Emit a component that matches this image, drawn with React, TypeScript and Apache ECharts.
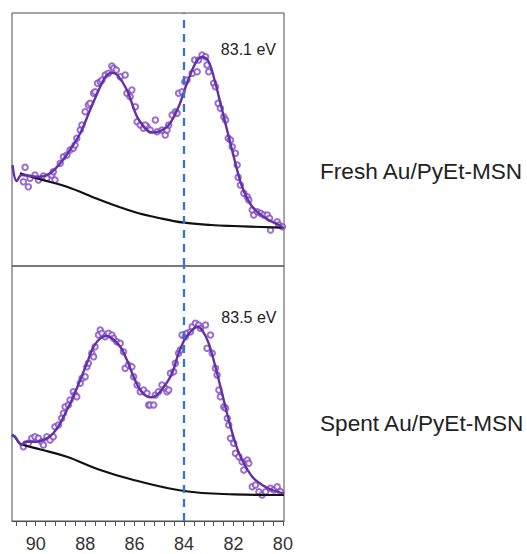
import React, { useEffect, useRef } from "react";
import * as echarts from "echarts";

// ---------- data ----------
const xTickLabels = [80, 82, 84, 86, 88, 90];
const xTickMarks = [
  80, 80.4, 80.8, 81.2, 81.6, 82, 82.4, 82.8, 83.2, 83.6, 84, 84.4, 84.8, 85.2,
  85.6, 86, 86.4, 86.8, 87.2, 87.6, 88, 88.4, 88.8, 89.2, 89.6, 90, 90.4, 90.8,
];
const referenceEnergy = 84;
const panelNames = ["Fresh Au/PyEt-MSN", "Spent Au/PyEt-MSN"];
const peakLabels = ["83.1 eV", "83.5 eV"];

const freshFit = [
  [90.94, 101], [90.77, 85], [90.57, 91], [90.23, 90], [89.83, 89.3], [89.42, 92.7],
  [89.01, 102.7], [88.61, 116], [88.2, 132.7], [87.8, 156], [87.39, 179.3], [87.15, 190],
  [86.92, 193.3], [86.7, 191], [86.31, 176], [85.9, 149.3], [85.57, 137.7], [85.28, 133.5],
  [85.03, 134.3], [84.62, 141], [84.22, 159.3], [83.88, 182.7], [83.54, 202.7], [83.26, 209.3],
  [83.0, 204.3], [82.73, 182.7], [82.46, 156], [82.19, 129.3], [81.92, 102.7], [81.65, 79.3],
  [81.24, 59.3], [80.7, 47.7], [80.16, 41], [79.96, 37.7],
];
const freshBaseline = [
  [90.64, 92.7], [89.8, 86.5], [88.74, 79.3], [87.39, 66], [86.04, 54.3], [84.96, 47.7],
  [84.0, 43.3], [82.9, 41], [81.99, 40], [80.02, 38.3],
];
const freshPoints = [
  [90.43, 98.7], [90.5, 84.3], [90.3, 79.3], [90.23, 87.7], [90.03, 91], [89.89, 86],
  [89.69, 90], [89.55, 87.7], [89.35, 91], [89.29, 94.3], [89.22, 86], [89.01, 102.7],
  [88.88, 109.3], [88.74, 111], [88.61, 116], [88.48, 117.7], [88.41, 121], [88.34, 127.7],
  [88.2, 136], [88.13, 141], [88.0, 154.3], [87.87, 161], [87.8, 162.7], [87.66, 172.7],
  [87.6, 174.3], [87.5, 182.7], [87.39, 184.3], [87.32, 186], [87.19, 191], [87.06, 192.7],
  [86.92, 200], [86.85, 197.7], [86.74, 196], [86.58, 189.3], [86.38, 191], [86.31, 172.7],
  [86.18, 169.3], [86.11, 176], [85.97, 159.3], [85.9, 144.3], [85.77, 141], [85.64, 137.7],
  [85.5, 139.3], [85.57, 141], [85.37, 136], [85.16, 146], [85.09, 134.3], [84.89, 136],
  [84.76, 131], [84.69, 136], [84.62, 141], [84.48, 151], [84.35, 154.3], [84.28, 152.7],
  [84.22, 172.7], [84.08, 174.3], [83.97, 184.3], [83.88, 186], [83.67, 192.7], [83.57, 206],
  [83.47, 194.3], [83.41, 206], [83.27, 211], [83.13, 209.3], [83.07, 201], [83.0, 194.3],
  [82.8, 182.7], [82.73, 179.3], [82.62, 162.7], [82.53, 157.7], [82.39, 149.3], [82.32, 146],
  [82.21, 127.7], [82.12, 126], [82.05, 119.3], [81.92, 112.7], [81.85, 101], [81.81, 88.7],
  [81.72, 81], [81.58, 72.7], [81.44, 69.3], [81.38, 66], [81.24, 56], [81.18, 51],
  [81.04, 54.3], [80.9, 52.7], [80.77, 51], [80.63, 51], [80.54, 47.7], [80.5, 36],
  [80.23, 44.3], [80.16, 41], [80.02, 39.3],
];

const spentFit = [
  [90.97, 86], [90.84, 84.3], [90.57, 76], [90.43, 79.3], [89.96, 79.3], [89.55, 82.7],
  [89.29, 87.7], [89.01, 97.7], [88.74, 111], [88.48, 124.3], [88.2, 141], [87.93, 157.7],
  [87.66, 174.3], [87.39, 182.7], [87.15, 185], [86.92, 182.7], [86.58, 174.3], [86.31, 161],
  [86.04, 144.3], [85.77, 131], [85.5, 124.5], [85.3, 123.7], [85.03, 127.7], [84.76, 136],
  [84.48, 147.7], [84.22, 167.7], [83.95, 182.7], [83.67, 191], [83.47, 194.3], [83.27, 191],
  [83.0, 177.7], [82.73, 154.3], [82.46, 127.7], [82.19, 101], [81.92, 77.7], [81.65, 61],
  [81.24, 44.3], [80.84, 36], [80.43, 31], [79.96, 27.7],
];
const spentBaseline = [
  [90.96, 86], [90.84, 84], [90.7, 79], [90.57, 76.5], [89.8, 71.5], [88.74, 64.3],
  [87.39, 51], [86.04, 41], [84.0, 30], [81.99, 26.7], [79.96, 26],
];
const spentPoints = [
  [90.5, 74.3], [90.3, 77.7], [90.16, 82.7], [90.03, 84.3], [89.89, 82.7], [89.76, 79.3],
  [89.69, 76], [89.55, 84.3], [89.42, 81], [89.29, 84.3], [89.22, 94.3], [89.08, 96],
  [88.95, 102.7], [88.88, 107.7], [88.81, 114.3], [88.68, 116], [88.61, 121], [88.48, 129.3],
  [88.41, 126], [88.34, 124.3], [88.2, 137.7], [88.13, 142.7], [88.0, 144.3], [87.93, 154.3],
  [87.87, 157.7], [87.73, 167.7], [87.66, 164.3], [87.6, 174.3], [87.46, 186], [87.39, 191],
  [87.32, 187.7], [87.19, 184.3], [87.06, 187.7], [86.92, 186], [86.85, 182.7], [86.72, 179.3],
  [86.58, 177.7], [86.45, 169.3], [86.38, 152.7], [86.25, 156], [86.11, 154.3], [86.04, 144.3],
  [85.9, 136], [85.77, 129.3], [85.64, 131], [85.5, 127.7], [85.43, 116], [85.37, 116],
  [85.23, 116], [85.16, 126], [85.03, 129.3], [84.89, 136], [84.76, 132.7], [84.69, 129.3],
  [84.62, 131], [84.55, 147.7], [84.42, 149.3], [84.35, 157.7], [84.22, 167.7], [84.15, 171],
  [84.08, 186], [83.95, 184.3], [83.88, 187.7], [83.74, 189.3], [83.67, 194.3], [83.54, 197.7],
  [83.41, 196], [83.34, 192.7], [83.13, 196], [83.07, 172.7], [82.93, 186], [82.86, 167.7],
  [82.73, 152.7], [82.66, 146], [82.59, 131], [82.53, 124.3], [82.39, 114.3], [82.32, 112.7],
  [82.25, 102.7], [82.19, 96], [82.12, 82.7], [81.99, 77.7], [81.92, 67.7], [81.78, 64.3],
  [81.65, 59.3], [81.58, 51], [81.44, 61], [81.38, 57.7], [81.24, 34.3], [81.11, 36],
  [80.97, 29.3], [80.84, 26], [80.7, 29.3], [80.5, 32.7], [80.36, 31], [80.23, 34.3],
  [80.09, 29.3],
];

// ---------- styling ----------
const FONT = "'Liberation Sans', Arial, Helvetica, sans-serif";
const PURPLE_LINE = "#6430a6";
const PURPLE_PT = "#7f4cc2";
const BLUE = "#3674cc";
const BORDER = "#4d4d4d";

export default function App() {
  const ref = useRef<HTMLDivElement>(null);

  useEffect(() => {
    if (!ref.current) return;
    const chart = echarts.init(ref.current, undefined, { renderer: "svg" });

    const panels = [
      { fit: freshFit, base: freshBaseline, pts: freshPoints, top: 13, height: 253, ymax: 253 },
      { fit: spentFit, base: spentBaseline, pts: spentPoints, top: 266, height: 255, ymax: 255 },
    ];

    const xMin = 79.955;
    const xMax = 90.96;

    const series: any[] = [];
    panels.forEach((p, i) => {
      series.push({
        type: "scatter",
        xAxisIndex: i,
        yAxisIndex: i,
        data: p.pts,
        symbol: "emptyCircle",
        symbolSize: 5.5,
        itemStyle: { color: PURPLE_PT, borderColor: PURPLE_PT, borderWidth: 1.2 },
        z: 2,
      });
      series.push({
        type: "line",
        xAxisIndex: i,
        yAxisIndex: i,
        data: p.base,
        showSymbol: false,
        smooth: 0.4,
        lineStyle: { color: "#111", width: 2.2 },
        z: 3,
      });
      series.push({
        type: "line",
        xAxisIndex: i,
        yAxisIndex: i,
        data: p.fit,
        showSymbol: false,
        smooth: 0.35,
        lineStyle: { color: PURPLE_LINE, width: 2.4 },
        z: 4,
        markLine: {
          silent: true,
          symbol: ["none", "none"],
          label: { show: false },
          lineStyle: { color: BLUE, width: 2.3, type: [8, 6] },
          data: [{ xAxis: referenceEnergy }],
        },
      });
    });

    chart.setOption({
      animation: false,
      backgroundColor: "#ffffff",
      grid: panels.map((p) => ({
        left: 12,
        top: p.top,
        width: 272,
        height: p.height,
        show: true,
        borderColor: BORDER,
        borderWidth: 1,
        backgroundColor: "transparent",
      })),
      xAxis: panels.map((p, i) => ({
        gridIndex: i,
        type: "value",
        inverse: true,
        min: xMin,
        max: xMax,
        splitLine: { show: false },
        axisLine: { show: i === 1, lineStyle: { color: BORDER, width: 1 } },
        axisTick: {
          show: i === 1,
          customValues: xTickMarks,
          length: 5,
          lineStyle: { color: "#555", width: 1 },
        },
        axisLabel: {
          show: i === 1,
          customValues: xTickLabels,
          fontSize: 18,
          fontFamily: FONT,
          color: "#333",
          margin: 14,
        },
      })),
      yAxis: panels.map((p, i) => ({
        gridIndex: i,
        type: "value",
        min: 0,
        max: p.ymax,
        show: false,
        splitLine: { show: false },
      })),
      series,
      graphic: [
        {
          type: "text",
          x: 276,
          y: 49,
          style: {
            text: peakLabels[0],
            fontSize: 16,
            fontFamily: FONT,
            fill: "#222",
            align: "right",
            verticalAlign: "middle",
          },
        },
        {
          type: "text",
          x: 276.5,
          y: 317,
          style: {
            text: peakLabels[1],
            fontSize: 16,
            fontFamily: FONT,
            fill: "#222",
            align: "right",
            verticalAlign: "middle",
          },
        },
        {
          type: "text",
          x: 320,
          y: 171,
          style: {
            text: panelNames[0],
            fontSize: 22.6,
            fontFamily: FONT,
            fill: "#222",
            align: "left",
            verticalAlign: "middle",
          },
        },
        {
          type: "text",
          x: 320,
          y: 423,
          style: {
            text: panelNames[1],
            fontSize: 22.6,
            fontFamily: FONT,
            fill: "#222",
            align: "left",
            verticalAlign: "middle",
          },
        },
      ],
    });

    return () => chart.dispose();
  }, []);

  return (
    <div
      ref={ref}
      style={{ position: "absolute", left: 0, top: 0, width: 527, height: 554 }}
    />
  );
}
